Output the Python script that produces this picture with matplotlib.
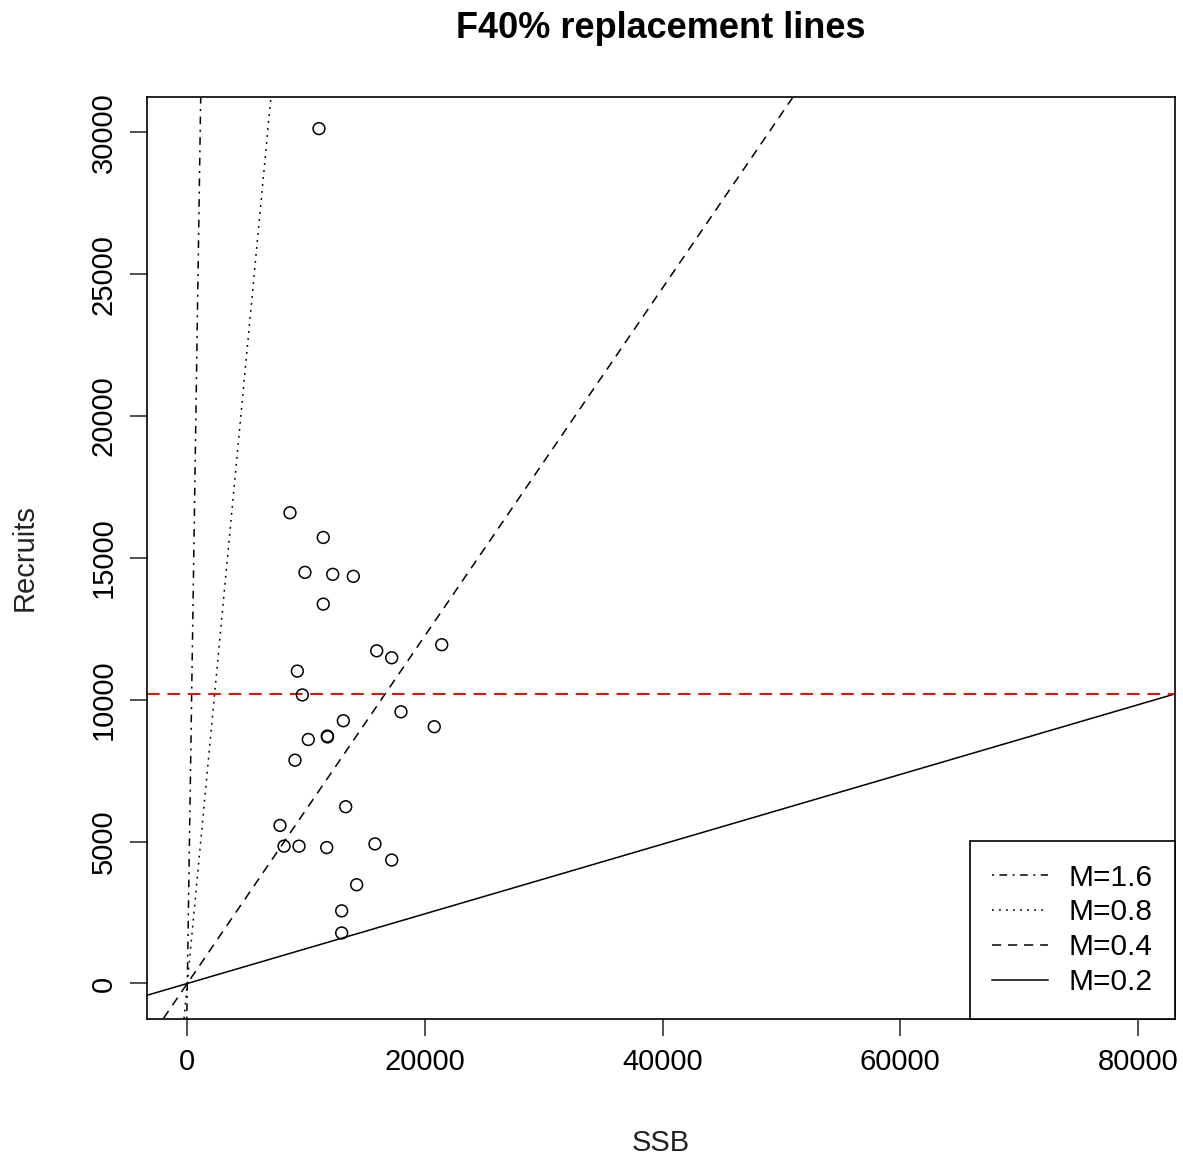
#!/usr/bin/env python3
"""
Stock-recruitment scatter with F40% replacement lines for several
natural mortality (M) assumptions.
"""

import matplotlib
matplotlib.use("Agg")
import matplotlib.pyplot as plt

plt.rcParams['font.family'] = ['Liberation Sans', 'DejaVu Sans']

# Observed spawning stock biomass and recruits
ssb = [11080, 8640, 11440, 9900, 12235, 13970, 11440, 15940, 17200, 21410,
       9260, 9680, 17980, 13130, 20780, 10180, 11780, 11800, 9060, 13330,
       7800, 8140, 9400, 11730, 15790, 17200, 14250, 12990, 12990]
recruits = [30130, 16590, 15720, 14490, 14420, 14350, 13370, 11725, 11480, 11940,
            11010, 10170, 9575, 9260, 9050, 8600, 8720, 8690, 7870, 6230,
            5570, 4840, 4840, 4790, 4920, 4350, 3480, 2560, 1780]

# Replacement line slopes (recruits per unit SSB) at F40%
m_labels = ["M=1.6", "M=0.8", "M=0.4", "M=0.2"]
m_slopes = [27.7, 4.44, 0.613, 0.1228]
m_dashes = [(1.3, 3.6, 5.0, 3.6), (1.2, 3.4), (6.0, 4.5), None]

# Reference recruitment level
r_ref = 10220

fig = plt.figure(figsize=(11.83, 11.6), dpi=100)
ax = fig.add_axes([147.3 / 1183, 1 - 1018.5 / 1160, 1027.7 / 1183, 921.8 / 1160])

ax.scatter(ssb, recruits, s=8.5 ** 2, facecolors='none', edgecolors='black',
           linewidths=1.1, zorder=3)

for label, slope, dash in zip(m_labels, m_slopes, m_dashes):
    if dash is None:
        ax.axline((0, 0), slope=slope, color='black', linewidth=1.1, label=label)
    else:
        ax.axline((0, 0), slope=slope, color='black', linewidth=1.1,
                  linestyle=(0, dash), label=label)

ax.axhline(r_ref, color='#ff0000', linewidth=1.4, linestyle=(0, (6.5, 4.0)))

ax.set_xlim(-3366, 83110)
ax.set_ylim(-1234, 31254)
ax.set_xticks([0, 20000, 40000, 60000, 80000])
ax.set_yticks([0, 5000, 10000, 15000, 20000, 25000, 30000])

for side in ax.spines.values():
    side.set_linewidth(1.2)

ax.tick_params(axis='both', length=12.2, width=1.1, labelsize=21, color='#222222')
ax.tick_params(axis='x', pad=9)
ax.tick_params(axis='y', pad=9, labelrotation=90)
for lab in ax.get_yticklabels():
    lab.set_va('center')

ax.set_xlabel("SSB", fontsize=21, color='#222222')
ax.set_ylabel("Recruits", fontsize=21, color='#222222')
ax.xaxis.set_label_coords(0.5, -0.135)
ax.yaxis.set_label_coords(-0.119, 0.5)
ax.xaxis.label.set_va('center')
ax.yaxis.label.set_va('center')

ax.set_title("F40% replacement lines", fontsize=26, fontweight='bold', pad=42)

leg = ax.legend(loc='lower right', borderaxespad=0, fancybox=False,
                edgecolor='black', framealpha=1, fontsize=21.5,
                handlelength=1.85, handletextpad=0.7, labelspacing=0.23,
                borderpad=0.75)
leg.get_frame().set_linewidth(1.2)

fig.savefig("out.png", dpi=100)
